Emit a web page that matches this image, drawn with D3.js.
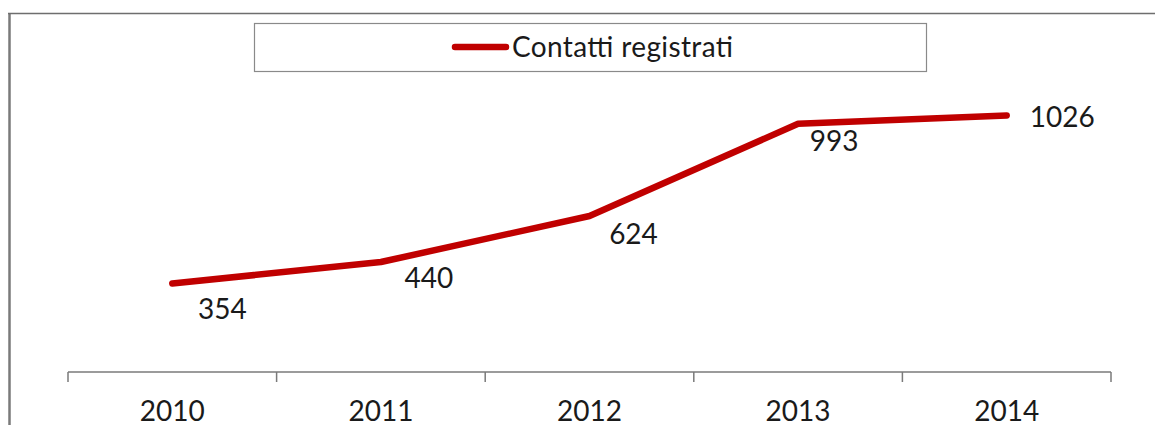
<!DOCTYPE html>
<html>
<head>
<meta charset="utf-8">
<script src="https://cdn.jsdelivr.net/npm/d3@7/dist/d3.min.js"></script>
<style>
  html, body { margin: 0; padding: 0; background: #fff; }
  svg { display: block; }
  text { font-family: Lato, "Open Sans", sans-serif; fill: #1a1a1a; }
</style>
</head>
<body>
<svg id="chart" width="1155" height="425"></svg>
<script>
const years = ["2010", "2011", "2012", "2013", "2014"];
const contatti = [354, 440, 624, 993, 1026];
const seriesName = "Contatti registrati";
// label offsets (dx, dy, anchor) relative to each point
const labelOffsets = [[50, 35, "middle"], [48, 26, "middle"], [44, 28, "middle"], [36, 27, "middle"], [23, 11, "start"]];

const svg = d3.select("#chart");
const W = 1155, H = 425;

// outer frame (partially visible)
svg.append("line").attr("x1", 9.5).attr("x2", 9.5).attr("y1", 13).attr("y2", H)
  .attr("stroke", "#7a7a7a").attr("stroke-width", 2.5);
svg.append("line").attr("x1", 8).attr("x2", W).attr("y1", 13.5).attr("y2", 13.5)
  .attr("stroke", "#6e6e6e").attr("stroke-width", 1.5);

const x = d3.scaleBand().domain(years).range([68, 1111]);
const y = d3.scaleLinear().domain([0, 1200]).range([372, 72]);

// x axis
const axisG = svg.append("g").attr("transform", "translate(0,372)");
axisG.append("line").attr("x1", 68).attr("x2", 1111).attr("y1", 0).attr("y2", 0)
  .attr("stroke", "#7a7a7a").attr("stroke-width", 1.5);
const tickPos = years.map(d => x(d)).concat([x(years[years.length - 1]) + x.bandwidth()]);
axisG.selectAll("line.tick").data(tickPos).join("line").attr("class", "tick")
  .attr("x1", d => d).attr("x2", d => d).attr("y1", 0).attr("y2", 10)
  .attr("stroke", "#7a7a7a").attr("stroke-width", 1.5);
axisG.selectAll("text").data(years).join("text")
  .attr("x", d => x(d) + x.bandwidth() / 2).attr("y", 49)
  .attr("text-anchor", "middle").attr("font-size", 28).text(d => d);

// line
const pts = years.map((d, i) => [x(d) + x.bandwidth() / 2, y(contatti[i])]);
svg.append("path").datum(pts)
  .attr("d", d3.line())
  .attr("fill", "none").attr("stroke", "#C00000").attr("stroke-width", 6.5)
  .attr("stroke-linecap", "round").attr("stroke-linejoin", "round");

// data labels
svg.selectAll("text.lbl").data(contatti).join("text").attr("class", "lbl")
  .attr("x", (d, i) => pts[i][0] + labelOffsets[i][0])
  .attr("y", (d, i) => pts[i][1] + labelOffsets[i][1])
  .attr("text-anchor", (d, i) => labelOffsets[i][2])
  .attr("font-size", 28).text(d => d);

// legend
const lg = svg.append("g");
lg.append("rect").attr("x", 254.5).attr("y", 23.5).attr("width", 672).attr("height", 48)
  .attr("fill", "#fff").attr("stroke", "#8a8a8a").attr("stroke-width", 1.2);
lg.append("line").attr("x1", 455).attr("x2", 506).attr("y1", 47).attr("y2", 47)
  .attr("stroke", "#C00000").attr("stroke-width", 6.5).attr("stroke-linecap", "round");
lg.append("text").attr("x", 512).attr("y", 57).attr("font-size", 28).attr("textLength", 221).text(seriesName);
</script>
</body>
</html>
